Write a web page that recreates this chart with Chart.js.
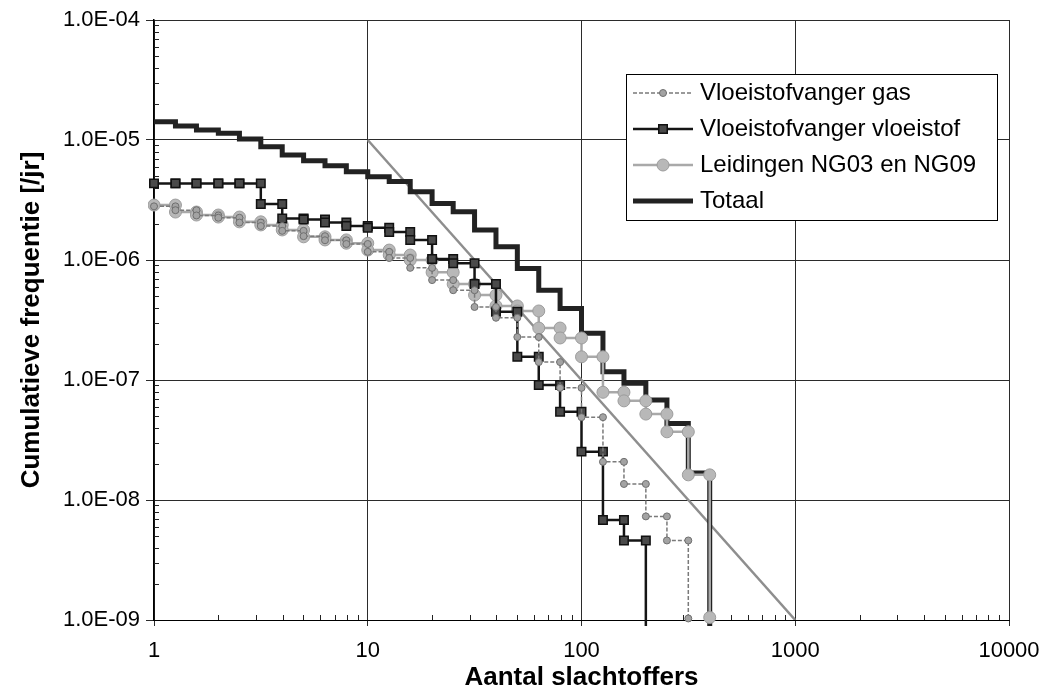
<!DOCTYPE html>
<html>
<head>
<meta charset="utf-8">
<title>FN-curve</title>
<script src="https://cdn.jsdelivr.net/npm/chart.js@4/dist/chart.umd.min.js"></script>
<style>
  body { margin: 0; background: #fff; }
  #wrap { width: 1040px; height: 697px; }
</style>
</head>
<body>
<div id="wrap"><canvas id="fnChart"></canvas></div>
<script>
// Class boundaries: number of victims N
const stepN = [1, 1.26, 1.58, 2, 2.51, 3.16, 3.98, 5.01, 6.31, 7.94,
  10, 12.6, 15.8, 20, 25.1, 31.6, 39.8, 50.1, 63.1, 79.4,
  100, 126, 158, 200, 251, 316, 398];

// Cumulative frequency F(>=N) per year, one value per class
const fGas = [2.8e-6, 2.6e-6, 2.35e-6, 2.25e-6, 2.05e-6, 1.92e-6, 1.75e-6, 1.58e-6, 1.46e-6, 1.36e-6,
  1.17e-6, 1.04e-6, 8.6e-7, 6.8e-7, 5.6e-7, 4.06e-7, 3.3e-7, 2.28e-7, 1.41e-7, 8.6e-8,
  4.9e-8, 2.08e-8, 1.36e-8, 7.3e-9, 4.6e-9, 1.03e-9];
const fVloeistof = [4.35e-6, 4.35e-6, 4.35e-6, 4.35e-6, 4.35e-6, 2.93e-6, 2.22e-6, 2.18e-6, 2.05e-6, 1.92e-6,
  1.86e-6, 1.71e-6, 1.47e-6, 1.02e-6, 9.4e-7, 6.3e-7, 3.7e-7, 1.56e-7, 9.1e-8, 5.45e-8,
  2.53e-8, 6.8e-9, 4.6e-9, 1e-10];
const fLeidingen = [2.87e-6, 2.51e-6, 2.37e-6, 2.28e-6, 2.08e-6, 1.96e-6, 1.78e-6, 1.56e-6, 1.47e-6, 1.38e-6,
  1.21e-6, 1.1e-6, 1.0e-6, 7.9e-7, 6.3e-7, 5.1e-7, 4.14e-7, 3.76e-7, 2.71e-7, 2.24e-7,
  1.56e-7, 7.9e-8, 6.7e-8, 5.2e-8, 3.7e-8, 1.62e-8, 1.05e-9];
const fTotaal = [1.42e-5, 1.31e-5, 1.21e-5, 1.14e-5, 1.02e-5, 8.8e-6, 7.5e-6, 6.7e-6, 6.1e-6, 5.45e-6,
  4.95e-6, 4.5e-6, 3.7e-6, 2.96e-6, 2.53e-6, 1.78e-6, 1.29e-6, 8.5e-7, 5.6e-7, 3.95e-7,
  2.45e-7, 1.17e-7, 9.4e-8, 6.8e-8, 4.35e-8, 1.68e-8, 1e-10];

// Orientation value for the group risk
const normN = [10, 1000];
const normF = [1e-5, 1e-9];

const xTicks = [1, 10, 100, 1000, 10000];
const xTickLabels = ["1", "10", "100", "1000", "10000"];
const yTicks = [1e-9, 1e-8, 1e-7, 1e-6, 1e-5, 1e-4];
const yTickLabels = ["1.0E-09", "1.0E-08", "1.0E-07", "1.0E-06", "1.0E-05", "1.0E-04"];
const minorSteps = [2, 3, 4, 5, 6, 7, 8, 9];

const FONT = "'Liberation Sans', Arial, sans-serif";
const squareRadius = 6;

// Turn class values into the corners of a step curve
function staircase(levels) {
  const pts = [];
  levels.forEach((f, k) => {
    if (k > 0) pts.push({ x: stepN[k], y: levels[k - 1] });
    pts.push({ x: stepN[k], y: f });
  });
  return pts;
}

function drawMarker(ctx, style, r, fill, stroke, lw, cx, cy) {
  ctx.beginPath();
  if (style === "rect") {
    const s = r * Math.SQRT1_2;
    ctx.rect(cx - s, cy - s, 2 * s, 2 * s);
  } else {
    ctx.arc(cx, cy, r, 0, Math.PI * 2);
  }
  ctx.fillStyle = fill;
  ctx.fill();
  ctx.lineWidth = lw;
  ctx.strokeStyle = stroke;
  ctx.stroke();
}

// Short inner ticks at 2..9 of every decade
const minorTicks = {
  id: "minorTicks",
  beforeDatasetsDraw(chart) {
    const { ctx, chartArea: a, scales: { x, y } } = chart;
    ctx.save();
    ctx.strokeStyle = "#222";
    ctx.lineWidth = 1;
    ctx.beginPath();
    xTicks.slice(0, -1).forEach((d) => {
      minorSteps.forEach((m) => {
        const px = Math.round(x.getPixelForValue(d * m)) + 0.5;
        ctx.moveTo(px, a.bottom);
        ctx.lineTo(px, a.bottom - 5);
      });
    });
    yTicks.slice(0, -1).forEach((d) => {
      minorSteps.forEach((m) => {
        const py = Math.round(y.getPixelForValue(d * m)) + 0.5;
        ctx.moveTo(a.left, py);
        ctx.lineTo(a.left + 5, py);
      });
    });
    ctx.stroke();
    ctx.restore();
  },
};

// Framed legend inside the plot, top right
const legendBox = {
  id: "legendBox",
  afterDraw(chart) {
    const { ctx, chartArea: a } = chart;
    const left = a.right - 383;
    const top = a.top + 54;
    const w = 371;
    const h = 146;
    ctx.save();
    ctx.fillStyle = "#fff";
    ctx.fillRect(left, top, w, h);
    ctx.strokeStyle = "#000";
    ctx.lineWidth = 1;
    ctx.strokeRect(left + 0.5, top + 0.5, w, h);
    ctx.font = "24px " + FONT;
    ctx.textBaseline = "middle";
    chart.data.datasets.filter((ds) => ds.label).forEach((ds, i) => {
      const cy = top + 19 + 36 * i;
      ctx.beginPath();
      ctx.setLineDash(ds.borderDash || []);
      ctx.strokeStyle = ds.borderColor;
      ctx.lineWidth = ds.borderWidth;
      ctx.moveTo(left + 7, cy);
      ctx.lineTo(left + 67, cy);
      ctx.stroke();
      ctx.setLineDash([]);
      const r = typeof ds.pointRadius === "function" ? squareRadius : ds.pointRadius;
      if (r > 0) {
        drawMarker(ctx, ds.pointStyle, r, ds.pointBackgroundColor, ds.pointBorderColor,
          ds.pointBorderWidth, left + 37, cy);
      }
      ctx.fillStyle = "#000";
      ctx.fillText(ds.label, left + 74, cy);
    });
    ctx.restore();
  },
};

Chart.defaults.font.family = FONT;
Chart.defaults.color = "#000";

new Chart(document.getElementById("fnChart"), {
  type: "line",
  data: {
    datasets: [
      {
        label: "Vloeistofvanger gas",
        data: staircase(fGas),
        borderColor: "#7a7a7a",
        borderWidth: 1.5,
        borderDash: [4, 2],
        pointStyle: "circle",
        pointRadius: 3.5,
        pointBackgroundColor: "#a3a3a3",
        pointBorderColor: "#6f6f6f",
        pointBorderWidth: 1,
        clip: 6,
      },
      {
        label: "Vloeistofvanger vloeistof",
        data: staircase(fVloeistof),
        borderColor: "#151515",
        borderWidth: 2.5,
        pointStyle: "rect",
        pointRadius: (c) => (c.raw && c.raw.y < 1e-9 ? 0 : squareRadius),
        pointBackgroundColor: "#4a4a4a",
        pointBorderColor: "#111",
        pointBorderWidth: 1.5,
        clip: 6,
      },
      {
        label: "Leidingen NG03 en NG09",
        data: staircase(fLeidingen),
        borderColor: "#a9a9a9",
        borderWidth: 2.5,
        pointStyle: "circle",
        pointRadius: 6,
        pointBackgroundColor: "#b8b8b8",
        pointBorderColor: "#9c9c9c",
        pointBorderWidth: 1,
        clip: 6,
      },
      {
        label: "Totaal",
        data: staircase(fTotaal),
        borderColor: "#222",
        borderWidth: 5,
        pointRadius: 0,
        clip: 6,
      },
      {
        data: normN.map((n, i) => ({ x: n, y: normF[i] })),
        borderColor: "#8e8e8e",
        borderWidth: 2.5,
        pointRadius: 0,
      },
    ],
  },
  options: {
    responsive: true,
    maintainAspectRatio: false,
    animation: false,
    events: [],
    layout: { padding: { top: 20, right: 31, left: 0, bottom: 0 } },
    plugins: {
      legend: { display: false },
      tooltip: { enabled: false },
    },
    scales: {
      x: {
        type: "logarithmic",
        min: 1,
        max: 10000,
        afterBuildTicks: (s) => {
          s.ticks = xTicks.map((v) => ({ value: v }));
        },
        afterFit: (s) => {
          s.height = 77;
          s.paddingLeft = 0;
          s.paddingRight = 0;
        },
        ticks: {
          callback: (v, i) => xTickLabels[i],
          font: { size: 22 },
          padding: 12,
          autoSkip: false,
          maxRotation: 0,
        },
        grid: { color: "#2b2b2b", lineWidth: 1, tickLength: 6 },
        border: { color: "#000", width: 1 },
        title: {
          display: true,
          text: "Aantal slachtoffers",
          font: { size: 26, weight: "bold" },
          padding: { top: 0, bottom: 4 },
        },
      },
      y: {
        type: "logarithmic",
        min: 1e-9,
        max: 1e-4,
        afterBuildTicks: (s) => {
          s.ticks = yTicks.map((v) => ({ value: v }));
        },
        afterFit: (s) => {
          s.width = 154;
          s.paddingTop = 0;
          s.paddingBottom = 0;
        },
        ticks: {
          callback: (v, i) => yTickLabels[i],
          font: { size: 22 },
          padding: 6,
          autoSkip: false,
        },
        grid: { color: "#2b2b2b", lineWidth: 1, tickLength: 8 },
        border: { color: "#000", width: 1.5 },
        title: {
          display: true,
          text: "Cumulatieve frequentie [/jr]",
          font: { size: 26, weight: "bold" },
          padding: { top: 16, bottom: 4 },
        },
      },
    },
  },
  plugins: [minorTicks, legendBox],
});
</script>
</body>
</html>
